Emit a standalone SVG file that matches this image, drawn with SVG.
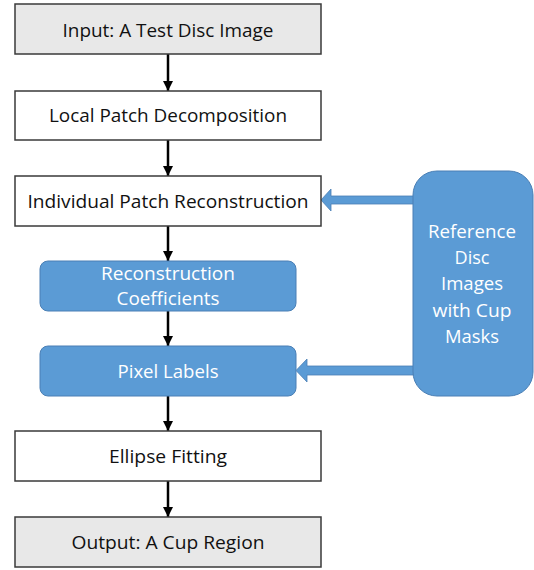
<svg xmlns="http://www.w3.org/2000/svg" width="534" height="570" viewBox="0 0 534 570">
<defs>
<marker id="ah" viewBox="0 0 10 10" refX="10" refY="5" markerWidth="4" markerHeight="4" orient="auto" markerUnits="strokeWidth">
<path d="M0,0 L10,5 L0,10 z" fill="#000"/>
</marker>
<style>
.box{stroke:#3a3a3a;stroke-width:1.5}
.white{fill:#ffffff}
.gray{fill:#e8e8e8}
.blue{fill:#5b9bd5;stroke:#4a7fb5;stroke-width:1}
.t{font-family:"Open Sans","Liberation Sans",Arial,sans-serif;font-size:18.5px;text-anchor:middle}
.dark{fill:#111}
.light{fill:#ffffff}
.conn{stroke:#000;stroke-width:2.5;fill:none;marker-end:url(#ah)}
.barrow{fill:#5b9bd5;stroke:#4a7fb5;stroke-width:0.8}
</style>
</defs>
<rect width="534" height="570" fill="#ffffff"/>

<g id="connectors">
<line class="conn" x1="168" y1="54" x2="168" y2="91"/>
<line class="conn" x1="168" y1="140" x2="168" y2="176"/>
<line class="conn" x1="168" y1="226" x2="168" y2="261"/>
<line class="conn" x1="168" y1="311" x2="168" y2="346"/>
<line class="conn" x1="168" y1="396" x2="168" y2="431"/>
<line class="conn" x1="168" y1="481" x2="168" y2="517"/>
<path class="barrow" d="M414,196 L331,196 L331,189 L321,200 L331,211 L331,204 L414,204 z"/>
<path class="barrow" d="M414,366 L307,366 L307,359 L296,370.5 L307,382 L307,375 L414,375 z"/>
</g>

<g id="input">
<rect class="box gray" x="15" y="4" width="306" height="50"/>
<text class="t dark" x="168" y="37" textLength="211" lengthAdjust="spacingAndGlyphs">Input: A Test Disc Image</text>
</g>

<g id="local-patch">
<rect class="box white" x="15" y="91" width="306" height="49"/>
<text class="t dark" x="168" y="122" textLength="238" lengthAdjust="spacingAndGlyphs">Local Patch Decomposition</text>
</g>

<g id="individual-patch">
<rect class="box white" x="15" y="176" width="306" height="50"/>
<text class="t dark" x="168" y="208" textLength="281" lengthAdjust="spacingAndGlyphs">Individual Patch Reconstruction</text>
</g>

<g id="coefficients">
<rect class="blue" x="40" y="261" width="256" height="50" rx="8"/>
<text class="t light" x="168" y="280" textLength="134" lengthAdjust="spacingAndGlyphs">Reconstruction</text>
<text class="t light" x="168" y="305" textLength="103" lengthAdjust="spacingAndGlyphs">Coefficients</text>
</g>

<g id="pixel-labels">
<rect class="blue" x="40" y="346" width="256" height="50" rx="8"/>
<text class="t light" x="168" y="378" textLength="101" lengthAdjust="spacingAndGlyphs">Pixel Labels</text>
</g>

<g id="reference">
<rect class="blue" x="413" y="171" width="120" height="225" rx="24"/>
<text class="t light" x="472" y="238" textLength="88" lengthAdjust="spacingAndGlyphs">Reference</text>
<text class="t light" x="472" y="264" textLength="35" lengthAdjust="spacingAndGlyphs">Disc</text>
<text class="t light" x="472" y="290" textLength="62" lengthAdjust="spacingAndGlyphs">Images</text>
<text class="t light" x="472" y="317" textLength="79" lengthAdjust="spacingAndGlyphs">with Cup</text>
<text class="t light" x="472" y="343" textLength="54" lengthAdjust="spacingAndGlyphs">Masks</text>
</g>

<g id="ellipse">
<rect class="box white" x="15" y="431" width="306" height="50"/>
<text class="t dark" x="168" y="463" textLength="118" lengthAdjust="spacingAndGlyphs">Ellipse Fitting</text>
</g>

<g id="output">
<rect class="box gray" x="15" y="517" width="306" height="50"/>
<text class="t dark" x="168" y="549" textLength="193" lengthAdjust="spacingAndGlyphs">Output: A Cup Region</text>
</g>
</svg>
